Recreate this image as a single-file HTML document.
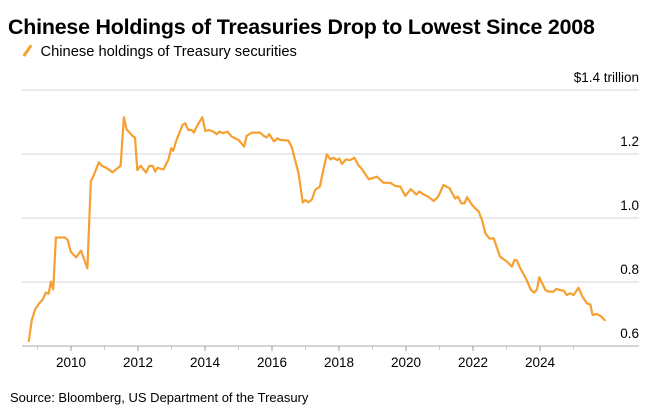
<!DOCTYPE html>
<html><head><meta charset="utf-8">
<style>
body{margin:0;background:#fff;font-family:"Liberation Sans",Arial,sans-serif;}
#wrap{position:relative;width:661px;height:410px;overflow:hidden;}
.title{position:absolute;left:8px;top:15px;font-size:21.4px;font-weight:bold;color:#000;letter-spacing:-0.2px}
.legend{position:absolute;left:16px;top:44px;font-size:14.7px;color:#000}
.legend span.sw{display:inline-block;width:2.5px;height:13px;background:#f5a030;transform:rotate(35deg);margin:0 12px 0 10px;vertical-align:-1px}
.source{position:absolute;left:10px;top:390px;font-size:13px;color:#000}
</style></head><body>
<div id="wrap">
<div class="title">Chinese Holdings of Treasuries Drop to Lowest Since 2008</div>
<div class="legend"><span class="sw"></span>Chinese holdings of Treasury securities</div>
<svg id="chart" width="661" height="410" style="position:absolute;left:0;top:0"></svg>
<div class="source">Source: Bloomberg, US Department of the Treasury</div>
</div>
<script>
const years=[2008.74,2008.83,2008.93,2009.07,2009.15,2009.25,2009.33,2009.40,2009.47,2009.55,2009.82,2009.90,2009.99,2010.15,2010.30,2010.49,2010.59,2010.69,2010.83,2010.92,2011.08,2011.24,2011.48,2011.58,2011.66,2011.86,2011.91,2011.98,2012.08,2012.24,2012.34,2012.44,2012.51,2012.58,2012.76,2012.91,2012.99,2013.05,2013.15,2013.33,2013.41,2013.50,2013.60,2013.67,2013.75,2013.92,2014.01,2014.11,2014.25,2014.35,2014.43,2014.55,2014.67,2014.80,2015.0,2015.17,2015.24,2015.39,2015.64,2015.76,2015.84,2015.92,2016.06,2016.16,2016.24,2016.49,2016.59,2016.79,2016.92,2016.99,2017.09,2017.19,2017.29,2017.43,2017.51,2017.64,2017.74,2017.84,2017.94,2018.01,2018.09,2018.21,2018.34,2018.46,2018.57,2018.67,2018.89,2019.13,2019.33,2019.53,2019.68,2019.83,2019.98,2020.14,2020.31,2020.40,2020.50,2020.66,2020.83,2020.96,2021.12,2021.30,2021.47,2021.55,2021.65,2021.75,2021.82,2021.97,2022.07,2022.17,2022.27,2022.37,2022.49,2022.62,2022.72,2022.81,2023.01,2023.16,2023.24,2023.31,2023.41,2023.58,2023.73,2023.83,2023.91,2023.98,2024.16,2024.26,2024.41,2024.48,2024.72,2024.80,2024.90,2025.00,2025.15,2025.27,2025.40,2025.50,2025.57,2025.70,2025.83,2025.93];
const holdings=[0.616,0.681,0.715,0.736,0.744,0.767,0.763,0.801,0.777,0.939,0.939,0.931,0.895,0.877,0.898,0.843,1.114,1.136,1.174,1.163,1.155,1.143,1.163,1.315,1.277,1.254,1.252,1.15,1.163,1.142,1.163,1.163,1.145,1.157,1.152,1.183,1.218,1.21,1.244,1.291,1.296,1.275,1.275,1.267,1.285,1.315,1.272,1.275,1.27,1.262,1.27,1.265,1.27,1.254,1.244,1.223,1.256,1.267,1.267,1.256,1.252,1.262,1.239,1.249,1.244,1.242,1.221,1.14,1.048,1.056,1.049,1.058,1.088,1.098,1.14,1.199,1.183,1.188,1.181,1.186,1.169,1.183,1.181,1.188,1.166,1.155,1.121,1.129,1.11,1.11,1.1,1.098,1.069,1.09,1.073,1.083,1.075,1.067,1.053,1.067,1.103,1.093,1.061,1.067,1.046,1.046,1.065,1.041,1.03,1.02,0.994,0.952,0.936,0.936,0.905,0.879,0.864,0.848,0.869,0.867,0.843,0.811,0.775,0.767,0.777,0.815,0.775,0.77,0.77,0.778,0.772,0.759,0.765,0.759,0.782,0.754,0.733,0.73,0.697,0.7,0.692,0.681];
const yTicks=[0.6,0.8,1.0,1.2,1.4];
const yTickLabels=["0.6","0.8","1.0","1.2","$1.4 trillion"];
const xTicks=[2010,2012,2014,2016,2018,2020,2022,2024];
const xMinor=[2009,2011,2013,2015,2017,2019,2021,2023,2025];

const NS="http://www.w3.org/2000/svg";
const svg=document.getElementById('chart');
const L=22,R=639;
function xs(t){return 71+(t-2010)*33.5;}
function ys(v){return 346-(v-0.6)*320;}
function mk(tag,attrs){const e=document.createElementNS(NS,tag);for(const k in attrs)e.setAttribute(k,attrs[k]);svg.appendChild(e);return e;}

yTicks.forEach((v,i)=>{
  const g=mk('line',{x1:L,x2:R,y1:ys(v),y2:ys(v),stroke:i===0?'#bbb':'#ddd','stroke-width':1.3});
  
  
  const t=mk('text',{x:R,y:ys(v)-8,'text-anchor':'end','font-size':13.5,fill:'#000'});
  t.textContent=yTickLabels[i];
  
  
});
xTicks.forEach(yr=>{
  const l=mk('line',{x1:xs(yr),x2:xs(yr),y1:346,y2:351,stroke:'#999','stroke-width':1});
  
  
  const t=mk('text',{x:xs(yr),y:367,'text-anchor':'middle','font-size':13.5,fill:'#000'});
  t.textContent=yr;
  
  
});
xMinor.forEach(yr=>{
  const l=mk('line',{x1:xs(yr),x2:xs(yr),y1:346,y2:350,stroke:'#ccc','stroke-width':1});
  
  
});
const d=years.map((t,i)=>(i?'L':'M')+xs(t).toFixed(1)+','+ys(holdings[i]).toFixed(1)).join(' ');
const p=mk('path',{d:d,fill:'none',stroke:'#f5a030','stroke-width':2.2,'stroke-linejoin':'round','stroke-linecap':'round'});


</script>
</body></html>
